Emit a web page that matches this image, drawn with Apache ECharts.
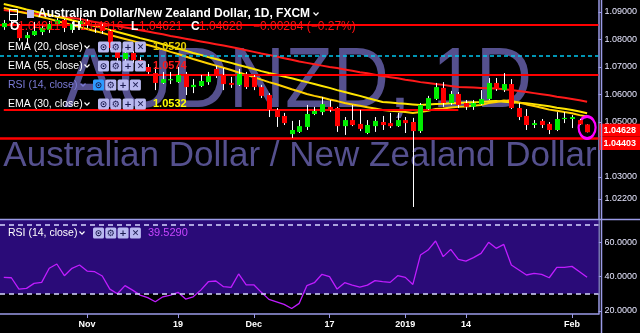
<!DOCTYPE html>
<html><head><meta charset="utf-8">
<script src="https://cdn.jsdelivr.net/npm/echarts@6/dist/echarts.min.js"></script>
<style>html,body{margin:0;padding:0;background:#000;}#c{width:640px;height:333px;}</style>
</head><body><div id="c"></div>
<script>
// ---------- DATA ----------
const categories = [
 '2018-10-17','2018-10-18','2018-10-19','2018-10-22','2018-10-23','2018-10-24','2018-10-25','2018-10-26','2018-10-29','2018-10-30','2018-10-31',
 '2018-11-01','2018-11-02','2018-11-05','2018-11-06','2018-11-07','2018-11-08','2018-11-09','2018-11-12','2018-11-13','2018-11-14','2018-11-15','2018-11-16','2018-11-19','2018-11-20','2018-11-21','2018-11-22','2018-11-23','2018-11-26','2018-11-27','2018-11-28','2018-11-29','2018-11-30',
 '2018-12-03','2018-12-04','2018-12-05','2018-12-06','2018-12-07','2018-12-10','2018-12-11','2018-12-12','2018-12-13','2018-12-14','2018-12-17','2018-12-18','2018-12-19','2018-12-20','2018-12-21','2018-12-24','2018-12-26','2018-12-27','2018-12-28','2018-12-31',
 '2019-01-02','2019-01-03','2019-01-04','2019-01-07','2019-01-08','2019-01-09','2019-01-10','2019-01-11','2019-01-14','2019-01-15','2019-01-16','2019-01-17','2019-01-18','2019-01-21','2019-01-22','2019-01-23','2019-01-24','2019-01-25','2019-01-28','2019-01-29','2019-01-30','2019-01-31',
 '2019-02-01','2019-02-04','2019-02-05','2019-02-06'
];
const opens = [1.0845,1.0860,1.0853,1.0805,1.0816,1.0827,1.0835,1.0856,1.0871,1.0835,
 1.0856,1.0867,1.0853,1.0849,1.0831,1.0762,1.0729,1.0751,1.0725,1.0700,
 1.0678,1.0642,1.0653,1.0645,1.0675,1.0627,1.0631,1.0645,1.0693,1.0671,
 1.0642,1.0635,1.0675,1.0664,1.0627,1.0598,1.0544,1.0522,1.0456,1.0464,
 1.0482,1.0529,1.0536,1.0555,1.0551,1.0485,1.0507,1.0493,1.0460,1.0485,
 1.0500,1.0496,1.0485,1.0507,1.0500,1.0467,1.0547,1.0584,1.0624,1.0569,
 1.0602,1.0569,1.0555,1.0565,1.0584,1.0642,1.0616,1.0638,1.0551,1.0522,
 1.0489,1.0504,1.0493,1.0471,1.0511,1.0511,1.0507,1.04911];
const closes = [1.0860,1.0853,1.0805,1.0816,1.0831,1.0842,1.0856,1.0871,1.0842,1.0856,
 1.0867,1.0853,1.0849,1.0831,1.0769,1.0733,1.0751,1.0725,1.0700,1.0682,
 1.0642,1.0656,1.0656,1.0671,1.0627,1.0635,1.0649,1.0667,1.0667,1.0638,
 1.0635,1.0675,1.0627,1.0627,1.0595,1.0544,1.0518,1.0496,1.0471,1.0485,
 1.0529,1.0540,1.0565,1.0544,1.0485,1.0507,1.0489,1.0475,1.0489,1.0504,
 1.0489,1.0485,1.0507,1.0496,1.0467,1.0562,1.0587,1.0627,1.0569,1.0602,
 1.0562,1.0555,1.0569,1.0584,1.0642,1.0620,1.0638,1.0551,1.0518,1.0489,
 1.0496,1.0489,1.0471,1.0511,1.0515,1.0518,1.04912,1.04628];
const lows = [1.0835,1.0838,1.0795,1.0780,1.0813,1.0816,1.0824,1.0849,1.0827,1.0824,
 1.0845,1.0842,1.0824,1.0820,1.0762,1.0722,1.0718,1.0715,1.0693,1.0675,
 1.0616,1.0638,1.0638,1.0642,1.0598,1.0605,1.0627,1.0635,1.0660,1.0616,
 1.0624,1.0631,1.0620,1.0616,1.0587,1.0518,1.0482,1.0489,1.0442,1.0460,
 1.0471,1.0525,1.0525,1.0536,1.0464,1.0453,1.0485,1.0467,1.0456,1.0464,
 1.0471,1.0478,1.0482,1.0460,1.0191,1.0460,1.0544,1.0580,1.0555,1.0562,
 1.0551,1.0544,1.0544,1.0562,1.0580,1.0613,1.0609,1.0547,1.0507,1.0471,
 1.0478,1.0478,1.0456,1.0467,1.0496,1.0478,1.0489,1.04621];
const highs = [1.0871,1.0867,1.0856,1.0827,1.0864,1.0853,1.0867,1.0878,1.0875,1.0864,
 1.0882,1.0875,1.0860,1.0856,1.0835,1.0773,1.0762,1.0758,1.0736,1.0711,
 1.0700,1.0682,1.0682,1.0700,1.0682,1.0656,1.0671,1.0682,1.0704,1.0696,
 1.0664,1.0693,1.0682,1.0671,1.0635,1.0605,1.0551,1.0533,1.0504,1.0507,
 1.0562,1.0555,1.0591,1.0580,1.0555,1.0518,1.0562,1.0544,1.0507,1.0518,
 1.0522,1.0533,1.0533,1.0518,1.0515,1.0569,1.0595,1.0642,1.0645,1.0613,
 1.0609,1.0580,1.0580,1.0616,1.0660,1.0660,1.0678,1.0656,1.0569,1.0547,
 1.0507,1.0511,1.0500,1.0536,1.0536,1.0525,1.0511,1.04916];
const ema20 = [1.0915,1.0908,1.0901,1.0895,1.0888,1.0882,1.0875,1.0867,1.0860,1.0853,
 1.0845,1.0838,1.0831,1.0824,1.0816,1.0809,1.0802,1.0795,1.0787,1.0780,
 1.0773,1.0764,1.0755,1.0747,1.0738,1.0729,1.0721,1.0713,1.0705,1.0697,
 1.0689,1.0680,1.0672,1.0663,1.0654,1.0645,1.0637,1.0628,1.0619,1.0611,
 1.0602,1.0595,1.0589,1.0582,1.0576,1.0569,1.0564,1.0559,1.0554,1.0549,
 1.0544,1.0541,1.0539,1.0536,1.0533,1.0536,1.0541,1.0547,1.0549,1.0553,
 1.0555,1.0556,1.0559,1.0562,1.0569,1.0573,1.0578,1.0576,1.0571,1.0564,
 1.0558,1.0552,1.0545,1.0541,1.0536,1.0532,1.0525,1.0520];
const ema30 = [1.0929,1.0923,1.0916,1.0909,1.0903,1.0896,1.0890,1.0883,1.0877,1.0870,
 1.0864,1.0856,1.0849,1.0842,1.0835,1.0827,1.0820,1.0813,1.0805,1.0798,
 1.0791,1.0783,1.0775,1.0767,1.0759,1.0751,1.0744,1.0736,1.0729,1.0722,
 1.0715,1.0707,1.0700,1.0693,1.0685,1.0678,1.0672,1.0665,1.0659,1.0652,
 1.0645,1.0638,1.0631,1.0624,1.0616,1.0609,1.0602,1.0595,1.0587,1.0580,
 1.0573,1.0571,1.0568,1.0566,1.0564,1.0562,1.0564,1.0565,1.0566,1.0568,
 1.0569,1.0571,1.0572,1.0573,1.0575,1.0576,1.0574,1.0572,1.0570,1.0568,
 1.0565,1.0561,1.0557,1.0552,1.0548,1.0544,1.0538,1.0532];
const ema55 = [1.0907,1.0904,1.0901,1.0897,1.0894,1.0891,1.0888,1.0884,1.0881,1.0878,
 1.0875,1.0869,1.0864,1.0859,1.0854,1.0849,1.0844,1.0839,1.0834,1.0829,
 1.0824,1.0819,1.0813,1.0808,1.0803,1.0798,1.0793,1.0788,1.0783,1.0778,
 1.0773,1.0767,1.0761,1.0755,1.0749,1.0744,1.0738,1.0732,1.0726,1.0720,
 1.0715,1.0710,1.0705,1.0700,1.0696,1.0691,1.0686,1.0681,1.0677,1.0672,
 1.0667,1.0663,1.0659,1.0654,1.0650,1.0645,1.0642,1.0638,1.0635,1.0631,
 1.0627,1.0626,1.0625,1.0624,1.0623,1.0622,1.0619,1.0616,1.0613,1.0609,
 1.0605,1.0601,1.0597,1.0592,1.0588,1.0584,1.0579,1.0574];
const rsi = [39.5,39.3,32.7,33.1,36.0,36.6,44.8,47.3,40.5,44.8,
 46.7,43.2,42.8,40.3,32.7,30.0,34.7,32.1,29.2,27.7,
 25.3,28.2,29.2,30.8,26.9,28.2,32.1,37.0,37.4,34.1,
 33.7,41.5,35.2,35.2,30.8,26.7,25.3,23.8,21.4,24.4,
 34.7,36.4,41.3,39.9,32.7,36.4,35.0,33.9,35.0,37.6,
 37.0,36.6,40.5,39.5,35.4,52.5,55.4,60.7,51.6,55.8,
 50.0,49.0,51.0,53.5,59.9,56.4,58.7,46.7,43.8,40.9,
 41.8,41.3,39.3,45.3,45.3,45.9,42.8,39.529];
const redLevels = [1.0855, 1.0673];
const supportLevel = 1.04403;
const dashedLevel = 1.0741;
const partialLevel = 1.0545, partialEndIndex = 60;
const circleCenter = 1.0480;
const priceTicks = [1.022, 1.03, 1.05, 1.06, 1.07, 1.08, 1.09];
const priceMin = 1.01473, priceMax = 1.09436;
const rsiTicks = [20, 40, 60];
const rsiMin = 18.2, rsiMax = 72.9, rsiUpper = 70, rsiLower = 30;
const xTickDates = ['2018-11-01','2018-11-19','2018-12-03','2018-12-17','2019-01-02','2019-01-14','2019-02-01'];
const xTickTexts = ['Nov','19','Dec','17','2019','14','Feb'];
const titleText = 'Australian Dollar/New Zealand Dollar, 1D, FXCM';
const watermark1 = 'AUDNZD, 1D';
const watermark2 = 'Australian Dollar / New Zealand Dollar';

// ---------- BUILD ----------
const n = closes.length;
const candleData = closes.map((c, i) => [i, opens[i], c, lows[i], highs[i]]);
const last = n - 1;
const chg = closes[last] - closes[last - 1];
const pct = chg / closes[last - 1] * 100;
const FONT = '"Liberation Sans", Arial, sans-serif';
const AX = '#9b9be6';
const signed = (v, d) => (v < 0 ? '\u2212' : '+') + Math.abs(v).toFixed(d);

const G = [];
function txt(x, y, text, fill, font, z) { G.push({type:'text', x, y, z: z || 100, style:{text, fill, font, verticalAlign:'middle'}}); }
function chevron(x, y, color) { G.push({type:'polyline', z:100, shape:{points:[[x-2.5,y-1.5],[x,y+1.2],[x+2.5,y-1.5]]}, style:{stroke:color, lineWidth:1.2, fill:null}}); }
function buttons(x, y, firstColor) {
  ['\u2299','\u2699','+','\u2715'].forEach((g, k) => {
    const bx = x + k * 12.3;
    G.push({type:'rect', z:100, shape:{x:bx, y:y-5.5, width:11, height:11, r:1.5}, style:{fill: (k === 0 && firstColor) ? firstColor : '#b9b9f0'}});
    G.push({type:'text', z:101, x:bx+5.5, y:y+0.5, style:{text:g, fill:'#1b1b50', font:'bold 9px "DejaVu Sans"', align:'center', verticalAlign:'middle'}});
  });
}
// watermarks
G.push({type:'text', z:0, x:298, y:93, style:{text:watermark1, fill:'#55508e', font:'78px ' + FONT, align:'center', verticalAlign:'middle'}, scaleY:1.1, originX:298, originY:93});
G.push({type:'text', z:0, x:300, y:156, style:{text:watermark2, fill:'#55508e', font:'35px ' + FONT, align:'center', verticalAlign:'middle'}});
// separators / axis extensions
G.push({type:'line', z:50, shape:{x1:0, y1:219.5, x2:640, y2:219.5}, style:{stroke:AX, lineWidth:1.5}});
G.push({type:'line', z:50, shape:{x1:601.5, y1:0, x2:601.5, y2:333}, style:{stroke:AX, lineWidth:1.5}});
// title row
G.push({type:'rect', z:100, shape:{x:9.5, y:9.5, width:8, height:11}, style:{fill:null, stroke:'#ffffff', lineWidth:1}});
G.push({type:'line', z:100, shape:{x1:9.5, y1:14.5, x2:17.5, y2:14.5}, style:{stroke:'#ffffff', lineWidth:1}});
G.push({type:'rect', z:100, shape:{x:27, y:10, width:7, height:8}, style:{fill:'#b9b9f0'}});
txt(38, 14, titleText, '#ffffff', 'bold 12px ' + FONT);
chevron(316, 14, '#ffffff');
// OHLC row
const ohlcRow = [['O', opens[last], 10, 18], ['H', highs[last], 72, 80], ['L', lows[last], 131, 139], ['C', closes[last], 191, 199]];
ohlcRow.forEach(([k, v, xk, xv]) => { txt(xk, 27, k, '#ffffff', 'bold 12px ' + FONT); txt(xv, 27, v.toFixed(5), '#ff1010', '12px ' + FONT); });
txt(253, 27, signed(chg, 5) + ' (' + signed(pct, 2) + '%)', '#ff1010', '12px ' + FONT);
// indicator legend rows
const rows = [
  {y:47, label:'EMA (20, close)', val:ema20[last].toFixed(4), vcol:'#e8cf00', tcol:'#ffffff'},
  {y:66, label:'EMA (55, close)', val:ema55[last].toFixed(4), vcol:'#ff1a1a', tcol:'#ffffff'},
  {y:85, label:'RSI (14, close)', val:'', vcol:'#fff', tcol:'#7b7bd6', first:'#2e9bff'},
  {y:104, label:'EMA (30, close)', val:ema30[last].toFixed(4), vcol:'#ffff00', tcol:'#ffffff'}
];
rows.forEach(r => {
  txt(8, r.y, r.label, r.tcol, '10.5px ' + FONT);
  const isRsi = r.label.startsWith('RSI');
  chevron(isRsi ? 83 : 87, r.y, r.tcol);
  buttons(isRsi ? 93 : 98, r.y, r.first);
  if (r.val) txt(153, r.y, r.val, r.vcol, 'bold 11px ' + FONT);
});
// RSI pane legend
txt(8, 233, 'RSI (14, close)', '#ffffff', '10.5px ' + FONT);
chevron(82, 233, '#ffffff');
buttons(93, 233);
txt(148, 233, rsi[last].toFixed(4), '#c846ff', '11px ' + FONT);

const boxLabel = (off) => ({show:true, position:'end', distance:1, formatter: p => Number(p.value).toFixed(5), backgroundColor:'#ff0000', color:'#ffffff', fontSize:9, fontWeight:'bold', fontFamily:'"Liberation Sans", Arial', padding:[2,5,2,4], offset:[0, off]});

const option = {
  backgroundColor: '#000000',
  animation: false,
  grid: [
    {left:0, top:0, width:601, height:219},
    {left:0, top:220, width:601, height:94}
  ],
  xAxis: [
    {type:'category', gridIndex:0, data:categories, boundaryGap:true, axisLine:{show:false}, axisTick:{show:false}, axisLabel:{show:false}, splitLine:{show:false}},
    {type:'category', gridIndex:1, data:categories, boundaryGap:true,
     axisLine:{show:true, lineStyle:{color:AX, width:1.5}},
     axisTick:{show:true, alignWithLabel:true, interval:(i, v) => xTickDates.includes(v), length:4, lineStyle:{color:AX}},
     axisLabel:{show:true, interval:(i, v) => xTickDates.includes(v), formatter: v => xTickTexts[xTickDates.indexOf(v)], color:'#ffffff', fontSize:9, fontWeight:'bold', fontFamily:'"Liberation Sans", Arial', margin:6},
     splitLine:{show:false}}
  ],
  yAxis: [
    {type:'value', gridIndex:0, position:'right', min:priceMin, max:priceMax,
     axisLine:{show:true, lineStyle:{color:AX, width:1.5}},
     axisTick:{show:true, customValues:priceTicks, length:3, lineStyle:{color:AX}},
     axisLabel:{show:true, customValues:priceTicks, formatter: v => Number(v).toFixed(5), color:'#e6e6ff', fontSize:9, fontFamily:'"Liberation Sans", Arial', margin:6},
     splitLine:{show:false}},
    {type:'value', gridIndex:1, position:'right', min:rsiMin, max:rsiMax,
     axisLine:{show:true, lineStyle:{color:AX, width:1.5}},
     axisTick:{show:true, customValues:rsiTicks, length:3, lineStyle:{color:AX}},
     axisLabel:{show:true, customValues:rsiTicks, formatter: v => Number(v).toFixed(4), color:'#e6e6ff', fontSize:9, fontFamily:'"Liberation Sans", Arial', margin:6},
     splitLine:{show:false}}
  ],
  series: [
    {type:'line', name:'EMA55', xAxisIndex:0, yAxisIndex:0, data:ema55, symbol:'none', z:3, lineStyle:{color:'#ff1a1a', width:2}},
    {type:'line', name:'EMA30', xAxisIndex:0, yAxisIndex:0, data:ema30, symbol:'none', z:3, lineStyle:{color:'#ffe600', width:2}},
    {type:'line', name:'EMA20', xAxisIndex:0, yAxisIndex:0, data:ema20, symbol:'none', z:3, lineStyle:{color:'#ffd000', width:2}},
    {type:'custom', name:'AUDNZD', xAxisIndex:0, yAxisIndex:0, z:5, data:candleData,
     encode:{x:0, y:[1,2,3,4]},
     renderItem(params, api) {
       const i = api.value(0), o = api.value(1), c = api.value(2), l = api.value(3), h = api.value(4);
       const pO = api.coord([i, o]), pC = api.coord([i, c]), pL = api.coord([i, l]), pH = api.coord([i, h]);
       const bw = api.size([1, 0])[0] * 0.66;
       const x = Math.round(pO[0]) + 0.5;
       const top = Math.min(pO[1], pC[1]), bot = Math.max(pO[1], pC[1]);
       return {type:'group', children:[
         {type:'line', shape:{x1:x, y1:pH[1], x2:x, y2:pL[1]}, style:{stroke:'#ffffff', lineWidth:1}},
         {type:'rect', shape:{x:x - bw/2, y:top, width:bw, height:Math.max(bot - top, 1.2)}, style:{fill: c >= o ? '#00ee00' : '#ff0000'}}
       ]};
     }},
    {type:'line', name:'levels', xAxisIndex:0, yAxisIndex:0, data:[], z:6,
     markLine:{silent:true, symbol:'none', animation:false, precision:5, data:[
       ...redLevels.map(v => ({yAxis:v, lineStyle:{color:'#ff0000', width:2, type:'solid'}, label:{show:false}})),
       {yAxis:dashedLevel, lineStyle:{color:'#00c8f0', width:1.5, type:[4,3]}, label:{show:false}},
       [{coord:[categories[0], partialLevel], lineStyle:{color:'#ff0000', width:2, type:'solid'}, label:{show:false}}, {coord:[categories[partialEndIndex], partialLevel]}],
       {yAxis:supportLevel, lineStyle:{color:'#ff0000', width:2.5, type:'solid'}, label:boxLabel(5)},
       {yAxis:closes[last], lineStyle:{color:'rgba(0,0,0,0)', width:1, type:'solid'}, label:boxLabel(-2)}
     ]},
     markPoint:{silent:true, animation:false, data:[{coord:[categories[last], circleCenter], symbol:'circle', symbolSize:[17, 22], itemStyle:{color:'rgba(0,0,0,0)', borderColor:'#ff00ff', borderWidth:2.5}, label:{show:false}}]}
    },
    {type:'line', name:'RSI', xAxisIndex:1, yAxisIndex:1, data:rsi, symbol:'none', z:4, lineStyle:{color:'#c01cff', width:1.3},
     markArea:{silent:true, itemStyle:{color:'#2a0b78'}, data:[[{yAxis:rsiLower}, {yAxis:rsiMax}]]},
     markLine:{silent:true, symbol:'none', precision:4, label:{show:false}, lineStyle:{color:'#d8d8ff', width:1.5, type:[5,4]}, data:[{yAxis:rsiUpper}, {yAxis:rsiLower}]}
    }
  ],
  graphic: G
};
const chart = echarts.init(document.getElementById('c'));
chart.setOption(option);
</script>
</body></html>
